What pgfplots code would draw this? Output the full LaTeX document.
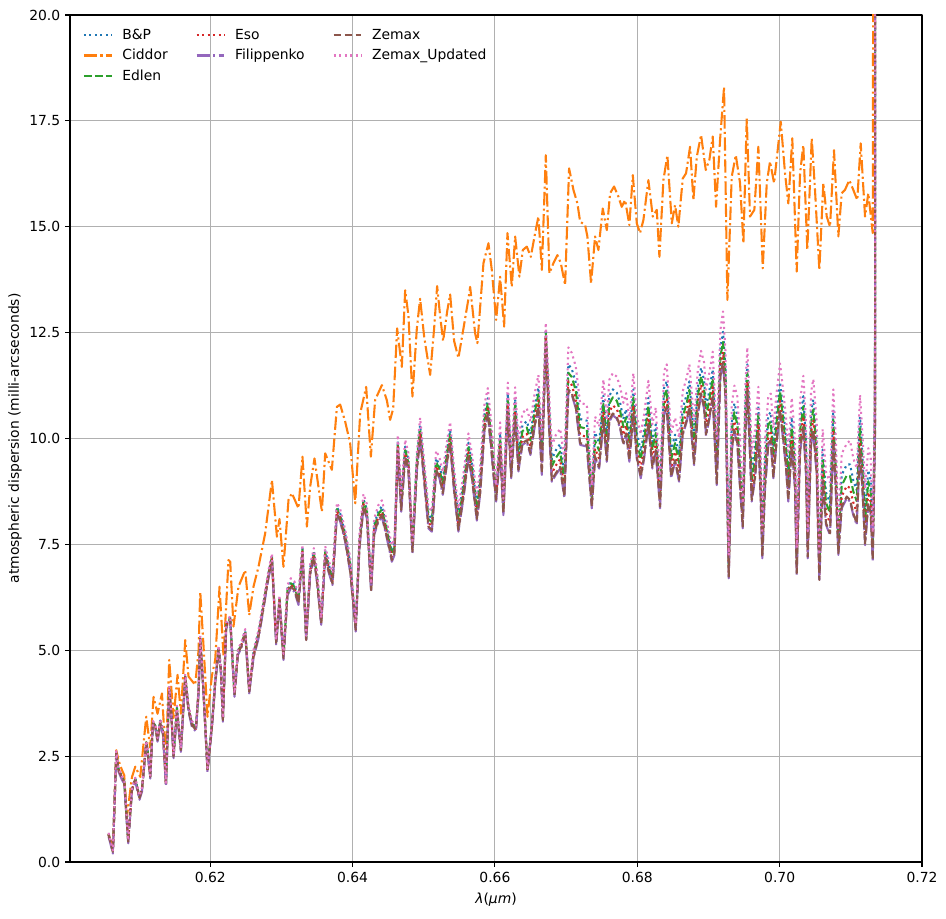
\documentclass[border=0pt]{standalone}
\usepackage{fontspec}
\setmainfont{DejaVu Sans}
\usepackage{pgfplots}
\usepackage{pgfplotstable}
\pgfplotsset{compat=1.18}
\definecolor{cB}{HTML}{1F77B4}
\definecolor{cC}{HTML}{FF7F0E}
\definecolor{cE}{HTML}{2CA02C}
\definecolor{cS}{HTML}{D62728}
\definecolor{cF}{HTML}{9467BD}
\definecolor{cZ}{HTML}{8C564B}
\definecolor{cU}{HTML}{E377C2}
\definecolor{gridc}{HTML}{B0B0B0}
\tikzset{
 mdot/.style={line width=1.5pt, dash pattern=on 1.5pt off 2.475pt},
 mdash/.style={line width=1.5pt, dash pattern=on 5.55pt off 2.4pt},
 mdashdot/.style={line width=1.5pt, dash pattern=on 9.6pt off 2.4pt on 1.5pt off 2.4pt},
}
\pgfplotstableread{
x bp ed eso fil z zu
0.60572 0.67 0.66 0.65 0.60 0.64 0.69
0.60633 0.26 0.25 0.25 0.20 0.24 0.27
0.60680 2.60 2.59 2.58 2.53 2.57 2.62
0.60712 2.20 2.19 2.18 2.13 2.17 2.22
0.60760 2.01 2.00 1.99 1.94 1.98 2.03
0.60792 1.92 1.91 1.90 1.85 1.89 1.94
0.60848 0.50 0.49 0.49 0.44 0.48 0.51
0.60900 1.73 1.72 1.71 1.66 1.70 1.75
0.60947 1.97 1.96 1.95 1.90 1.94 1.99
0.61007 1.54 1.53 1.52 1.47 1.51 1.56
0.61041 1.73 1.72 1.71 1.66 1.70 1.75
0.61101 2.84 2.83 2.82 2.77 2.81 2.86
0.61119 2.67 2.66 2.65 2.60 2.64 2.69
0.61157 2.03 2.02 2.02 1.97 2.01 2.04
0.61195 3.31 3.30 3.29 3.24 3.28 3.33
0.61228 3.22 3.21 3.20 3.15 3.19 3.24
0.61260 2.91 2.90 2.89 2.84 2.88 2.93
0.61298 3.34 3.32 3.30 3.24 3.28 3.38
0.61336 3.11 3.09 3.07 3.01 3.05 3.15
0.61378 1.85 1.84 1.83 1.78 1.82 1.87
0.61424 4.12 4.10 4.08 4.02 4.06 4.16
0.61452 3.58 3.56 3.54 3.48 3.52 3.62
0.61485 2.52 2.51 2.50 2.45 2.49 2.54
0.61532 3.65 3.63 3.61 3.55 3.59 3.69
0.61555 3.25 3.23 3.21 3.15 3.19 3.29
0.61588 2.67 2.66 2.65 2.60 2.64 2.69
0.61649 4.40 4.38 4.36 4.30 4.34 4.44
0.61695 3.65 3.63 3.61 3.55 3.59 3.69
0.61743 3.29 3.27 3.25 3.19 3.23 3.33
0.61799 3.18 3.16 3.14 3.08 3.12 3.22
0.61836 4.05 4.03 4.01 3.95 3.99 4.09
0.61860 5.30 5.28 5.26 5.20 5.24 5.34
0.61906 4.05 4.03 4.01 3.95 3.99 4.09
0.61962 2.20 2.19 2.18 2.13 2.17 2.22
0.62024 3.25 3.23 3.21 3.15 3.19 3.29
0.62070 4.29 4.27 4.25 4.19 4.23 4.33
0.62117 5.07 5.05 5.03 4.97 5.01 5.11
0.62150 4.59 4.57 4.55 4.49 4.53 4.63
0.62178 3.38 3.37 3.36 3.31 3.35 3.40
0.62225 5.62 5.60 5.58 5.52 5.56 5.66
0.62281 5.77 5.75 5.73 5.67 5.71 5.81
0.62341 3.97 3.96 3.95 3.90 3.94 3.99
0.62389 4.99 4.97 4.95 4.89 4.93 5.03
0.62435 5.14 5.12 5.10 5.04 5.08 5.18
0.62492 5.46 5.44 5.42 5.36 5.40 5.50
0.62548 4.07 4.05 4.04 3.98 4.02 4.10
0.62608 4.94 4.91 4.88 4.81 4.85 5.00
0.62678 5.41 5.38 5.35 5.28 5.32 5.47
0.62726 5.88 5.85 5.82 5.75 5.79 5.94
0.62772 6.35 6.32 6.29 6.22 6.26 6.41
0.62819 6.83 6.80 6.77 6.70 6.74 6.89
0.62867 7.22 7.19 7.16 7.09 7.13 7.28
0.62927 5.21 5.19 5.18 5.12 5.16 5.24
0.62973 6.24 6.21 6.18 6.11 6.15 6.30
0.63029 4.87 4.85 4.83 4.77 4.81 4.91
0.63086 6.46 6.42 6.38 6.30 6.34 6.54
0.63133 6.62 6.58 6.54 6.46 6.50 6.70
0.63184 6.54 6.50 6.46 6.38 6.42 6.62
0.63240 6.23 6.19 6.15 6.07 6.11 6.31
0.63296 7.41 7.37 7.33 7.25 7.29 7.49
0.63348 5.30 5.28 5.26 5.20 5.24 5.34
0.63404 6.94 6.90 6.86 6.78 6.82 7.02
0.63456 7.33 7.29 7.25 7.17 7.21 7.41
0.63499 6.81 6.76 6.71 6.62 6.66 6.91
0.63559 5.71 5.69 5.66 5.60 5.64 5.76
0.63615 7.36 7.31 7.26 7.17 7.21 7.46
0.63662 7.04 6.99 6.94 6.85 6.89 7.14
0.63718 6.73 6.68 6.63 6.54 6.58 6.83
0.63780 8.38 8.33 8.28 8.19 8.23 8.48
0.63826 8.23 8.18 8.13 8.04 8.08 8.33
0.63896 7.75 7.70 7.65 7.56 7.60 7.85
0.63966 7.07 7.01 6.95 6.85 6.89 7.19
0.64044 5.57 5.54 5.51 5.44 5.48 5.63
0.64097 7.63 7.57 7.51 7.41 7.45 7.75
0.64153 8.57 8.51 8.45 8.35 8.39 8.69
0.64201 8.33 8.27 8.21 8.11 8.15 8.45
0.64261 6.51 6.48 6.45 6.38 6.42 6.57
0.64303 7.97 7.90 7.83 7.72 7.76 8.11
0.64364 8.29 8.22 8.15 8.04 8.08 8.43
0.64412 8.40 8.33 8.26 8.15 8.19 8.54
0.64482 7.89 7.82 7.75 7.64 7.68 8.03
0.64552 7.34 7.27 7.20 7.09 7.13 7.48
0.64589 7.50 7.43 7.36 7.25 7.29 7.64
0.64636 9.94 9.87 9.80 9.69 9.73 10.08
0.64683 8.55 8.47 8.39 8.27 8.31 8.71
0.64739 9.81 9.73 9.65 9.53 9.57 9.97
0.64785 9.50 9.42 9.34 9.22 9.26 9.66
0.64841 7.45 7.41 7.37 7.29 7.33 7.53
0.64903 9.50 9.42 9.34 9.22 9.26 9.66
0.64949 10.31 10.22 10.13 10.00 10.04 10.49
0.65006 9.29 9.20 9.11 8.98 9.02 9.47
0.65066 8.19 8.10 8.01 7.88 7.92 8.37
0.65114 8.11 8.02 7.93 7.80 7.84 8.29
0.65174 9.53 9.44 9.35 9.22 9.26 9.71
0.65221 9.37 9.28 9.19 9.06 9.10 9.55
0.65268 9.01 8.91 8.81 8.67 8.71 9.21
0.65324 9.71 9.61 9.51 9.37 9.41 9.91
0.65371 10.19 10.09 9.99 9.85 9.89 10.39
0.65427 9.08 8.98 8.88 8.74 8.78 9.28
0.65487 8.14 8.04 7.94 7.80 7.84 8.34
0.65558 8.96 8.85 8.74 8.59 8.63 9.18
0.65628 9.90 9.79 9.68 9.53 9.57 10.12
0.65676 9.43 9.32 9.21 9.06 9.10 9.65
0.65746 8.43 8.32 8.21 8.06 8.10 8.65
0.65792 9.07 8.95 8.83 8.67 8.71 9.31
0.65853 10.56 10.44 10.32 10.16 10.20 10.80
0.65900 10.95 10.83 10.71 10.55 10.59 11.19
0.65947 10.17 10.05 9.93 9.77 9.81 10.41
0.65979 9.54 9.42 9.30 9.14 9.18 9.78
0.66017 8.76 8.69 8.62 8.51 8.55 8.90
0.66073 10.12 9.99 9.86 9.69 9.73 10.38
0.66119 8.44 8.37 8.30 8.19 8.23 8.58
0.66181 11.06 10.93 10.80 10.63 10.67 11.32
0.66228 9.34 9.26 9.18 9.06 9.10 9.50
0.66284 10.93 10.79 10.65 10.47 10.51 11.21
0.66330 9.68 9.54 9.40 9.22 9.26 9.96
0.66386 10.31 10.17 10.03 9.85 9.89 10.59
0.66448 10.41 10.26 10.11 9.92 9.96 10.71
0.66499 10.10 9.95 9.80 9.61 9.65 10.40
0.66555 10.73 10.58 10.43 10.24 10.28 11.03
0.66611 11.20 11.05 10.90 10.71 10.75 11.50
0.66659 9.66 9.50 9.34 9.14 9.18 9.98
0.66715 12.57 12.49 12.41 12.29 12.33 12.73
0.66761 10.76 10.60 10.44 10.24 10.28 11.08
0.66799 9.50 9.34 9.18 8.98 9.02 9.82
0.66855 9.72 9.54 9.36 9.14 9.18 10.08
0.66916 9.87 9.69 9.51 9.29 9.33 10.23
0.66976 9.17 8.99 8.81 8.59 8.63 9.53
0.67032 11.75 11.55 11.35 11.11 11.15 12.15
0.67080 11.64 11.45 11.26 11.03 11.07 12.02
0.67136 11.32 11.13 10.94 10.71 10.75 11.70
0.67197 10.46 10.27 10.08 9.85 9.89 10.84
0.67291 10.42 10.23 10.04 9.81 9.85 10.80
0.67361 8.69 8.59 8.49 8.35 8.39 8.89
0.67407 10.14 9.95 9.76 9.53 9.57 10.52
0.67464 9.90 9.71 9.52 9.29 9.33 10.28
0.67524 11.01 10.82 10.63 10.40 10.44 11.39
0.67572 10.06 9.87 9.68 9.45 9.49 10.44
0.67608 11.01 10.82 10.63 10.40 10.44 11.39
0.67656 11.16 10.97 10.78 10.55 10.59 11.54
0.67712 11.08 10.89 10.70 10.47 10.51 11.46
0.67758 10.85 10.66 10.47 10.24 10.28 11.23
0.67805 10.46 10.27 10.08 9.85 9.89 10.84
0.67843 10.69 10.50 10.31 10.08 10.12 11.07
0.67889 10.06 9.87 9.68 9.45 9.49 10.44
0.67945 11.16 10.97 10.78 10.55 10.59 11.54
0.67993 10.14 9.95 9.76 9.53 9.57 10.52
0.68049 9.70 9.50 9.30 9.06 9.10 10.10
0.68096 10.17 9.97 9.77 9.53 9.57 10.57
0.68156 10.96 10.76 10.56 10.32 10.36 11.36
0.68212 9.93 9.73 9.53 9.29 9.33 10.33
0.68260 10.33 10.13 9.93 9.69 9.73 10.73
0.68320 8.75 8.63 8.51 8.35 8.39 8.99
0.68376 11.19 10.99 10.79 10.55 10.59 11.59
0.68414 11.35 11.15 10.95 10.71 10.75 11.75
0.68475 9.70 9.50 9.30 9.06 9.10 10.10
0.68531 10.09 9.89 9.69 9.45 9.49 10.49
0.68587 9.62 9.42 9.22 8.98 9.02 10.02
0.68639 10.72 10.52 10.32 10.08 10.12 11.12
0.68695 11.04 10.84 10.64 10.40 10.44 11.44
0.68732 11.35 11.15 10.95 10.71 10.75 11.75
0.68798 10.01 9.81 9.61 9.37 9.41 10.41
0.68850 11.19 10.99 10.79 10.55 10.59 11.59
0.68896 11.67 11.47 11.27 11.03 11.07 12.07
0.68938 11.38 11.17 10.96 10.71 10.75 11.80
0.68966 10.73 10.52 10.31 10.06 10.10 11.15
0.69013 11.13 10.92 10.71 10.46 10.50 11.55
0.69060 11.63 11.42 11.21 10.96 11.00 12.05
0.69117 9.57 9.36 9.15 8.90 8.94 9.99
0.69167 12.13 11.92 11.71 11.46 11.50 12.55
0.69205 12.52 12.28 12.04 11.76 11.80 13.00
0.69240 11.63 11.42 11.21 10.96 11.00 12.05
0.69285 7.04 6.94 6.84 6.70 6.74 7.24
0.69327 10.36 10.15 9.94 9.69 9.73 10.78
0.69364 10.83 10.62 10.41 10.16 10.20 11.25
0.69406 10.55 10.33 10.11 9.85 9.89 10.99
0.69444 9.52 9.30 9.08 8.82 8.86 9.96
0.69482 8.25 8.14 8.03 7.88 7.92 8.47
0.69518 10.78 10.56 10.34 10.08 10.12 11.22
0.69546 11.75 11.55 11.35 11.11 11.15 12.15
0.69584 10.31 10.09 9.87 9.61 9.65 10.75
0.69608 9.21 8.99 8.77 8.51 8.55 9.65
0.69655 9.76 9.54 9.32 9.06 9.10 10.20
0.69701 10.78 10.56 10.34 10.08 10.12 11.22
0.69735 9.21 8.99 8.77 8.51 8.55 9.65
0.69757 7.54 7.43 7.32 7.17 7.21 7.76
0.69795 9.52 9.30 9.08 8.82 8.86 9.96
0.69841 10.55 10.33 10.11 9.85 9.89 10.99
0.69875 10.62 10.40 10.18 9.92 9.96 11.06
0.69912 9.79 9.56 9.33 9.06 9.10 10.25
0.69959 10.65 10.42 10.19 9.92 9.96 11.11
0.70006 11.33 11.11 10.89 10.63 10.67 11.77
0.70052 10.65 10.42 10.19 9.92 9.96 11.11
0.70090 10.02 9.79 9.56 9.29 9.33 10.48
0.70122 9.24 9.01 8.78 8.51 8.55 9.70
0.70170 10.50 10.27 10.04 9.77 9.81 10.96
0.70216 9.55 9.32 9.09 8.82 8.86 10.01
0.70240 7.18 7.06 6.94 6.78 6.82 7.42
0.70287 10.42 10.19 9.96 9.69 9.73 10.88
0.70333 11.00 10.76 10.52 10.24 10.28 11.48
0.70371 9.90 9.66 9.42 9.14 9.18 10.38
0.70395 7.57 7.45 7.33 7.17 7.21 7.81
0.70441 10.61 10.37 10.13 9.85 9.89 11.09
0.70473 10.92 10.68 10.44 10.16 10.20 11.40
0.70521 9.90 9.66 9.42 9.14 9.18 10.38
0.70558 7.02 6.90 6.78 6.62 6.66 7.26
0.70605 9.74 9.50 9.26 8.98 9.02 10.22
0.70652 8.72 8.48 8.24 7.96 8.00 9.20
0.70708 8.48 8.24 8.00 7.72 7.76 8.96
0.70754 10.68 10.44 10.20 9.92 9.96 11.16
0.70792 9.43 9.19 8.95 8.67 8.71 9.91
0.70825 7.65 7.53 7.41 7.25 7.29 7.89
0.70872 9.14 8.89 8.64 8.35 8.39 9.64
0.70943 9.38 9.13 8.88 8.59 8.63 9.88
0.70989 9.39 9.11 8.83 8.51 8.55 9.95
0.71035 9.01 8.75 8.49 8.19 8.23 9.53
0.71083 8.78 8.52 8.26 7.96 8.00 9.30
0.71129 10.51 10.25 9.99 9.69 9.73 11.03
0.71167 9.49 9.23 8.97 8.67 8.71 10.01
0.71200 8.30 8.04 7.78 7.48 7.52 8.82
0.71246 9.25 8.99 8.73 8.43 8.47 9.77
0.71280 9.01 8.75 8.49 8.19 8.23 9.53
0.71308 7.52 7.39 7.26 7.09 7.13 7.78
0.71340 10.90 10.64 10.38 10.08 10.12 11.42
0.71354 60 60 60 60 60 60
}\cluster
\pgfplotstableread{
x y
0.60572 0.66
0.60633 0.30
0.60680 2.64
0.60712 2.40
0.60760 2.17
0.60792 2.05
0.60830 1.07
0.60900 2.00
0.60947 2.25
0.61017 2.01
0.61101 3.43
0.61157 2.70
0.61204 3.90
0.61260 3.50
0.61322 3.98
0.61378 2.41
0.61424 4.77
0.61485 3.40
0.61541 4.42
0.61588 3.50
0.61649 5.24
0.61695 4.38
0.61789 4.18
0.61836 5.00
0.61860 6.38
0.61906 5.10
0.61962 3.43
0.62024 4.40
0.62070 4.77
0.62131 6.50
0.62187 4.85
0.62257 7.13
0.62281 7.09
0.62327 5.56
0.62397 6.50
0.62492 6.89
0.62548 5.83
0.62608 6.50
0.62678 6.97
0.62772 7.76
0.62867 9.02
0.62937 7.68
0.62973 8.10
0.63029 6.97
0.63100 8.55
0.63147 8.71
0.63240 8.35
0.63296 9.57
0.63358 7.92
0.63404 8.86
0.63465 9.53
0.63569 8.27
0.63615 9.65
0.63709 9.26
0.63780 10.75
0.63826 10.80
0.63896 10.40
0.63966 9.89
0.64037 8.47
0.64107 10.59
0.64191 11.22
0.64257 9.57
0.64317 10.91
0.64412 11.26
0.64482 10.90
0.64528 10.44
0.64570 10.70
0.64626 12.60
0.64692 11.69
0.64739 13.50
0.64785 12.90
0.64841 10.99
0.64903 12.60
0.64949 13.30
0.65006 12.40
0.65090 11.50
0.65146 12.60
0.65188 13.60
0.65230 12.90
0.65272 12.30
0.65329 13.00
0.65371 13.40
0.65427 12.30
0.65487 11.90
0.65558 12.60
0.65628 13.30
0.65652 13.58
0.65722 12.48
0.65754 12.25
0.65839 14.14
0.65909 14.61
0.65956 13.98
0.66017 12.80
0.66073 13.82
0.66129 12.64
0.66176 14.85
0.66237 13.58
0.66284 14.77
0.66344 13.82
0.66392 14.45
0.66448 14.53
0.66504 14.29
0.66565 14.85
0.66611 15.24
0.66659 13.98
0.66715 16.69
0.66765 13.90
0.66822 14.14
0.66878 14.33
0.66926 14.14
0.66986 13.62
0.67042 16.38
0.67103 15.87
0.67159 15.55
0.67197 15.12
0.67267 15.04
0.67299 14.77
0.67351 13.66
0.67407 14.77
0.67454 14.45
0.67515 15.43
0.67572 14.92
0.67618 15.79
0.67674 15.95
0.67735 15.71
0.67782 15.47
0.67829 15.63
0.67889 15.04
0.67937 16.22
0.67993 15.08
0.68039 14.85
0.68086 15.16
0.68156 16.10
0.68218 15.24
0.68274 15.40
0.68311 14.29
0.68367 16.10
0.68423 16.69
0.68485 15.08
0.68531 15.51
0.68577 15.00
0.68639 16.14
0.68685 16.26
0.68742 16.89
0.68788 15.63
0.68836 16.65
0.68896 17.17
0.68962 16.34
0.69013 16.58
0.69060 17.13
0.69107 15.47
0.69163 17.05
0.69219 18.30
0.69266 13.27
0.69327 16.18
0.69384 16.69
0.69444 16.03
0.69491 14.61
0.69538 17.56
0.69584 15.24
0.69645 15.40
0.69701 16.89
0.69763 14.02
0.69819 16.03
0.69865 16.54
0.69922 16.03
0.70016 17.48
0.70076 16.26
0.70122 15.55
0.70178 17.09
0.70240 13.94
0.70287 16.26
0.70333 16.93
0.70389 14.45
0.70451 17.09
0.70497 15.87
0.70558 13.98
0.70614 16.03
0.70662 15.24
0.70708 15.00
0.70764 16.81
0.70825 14.77
0.70872 15.79
0.70918 15.87
0.70979 16.10
0.71035 15.87
0.71091 15.63
0.71139 16.97
0.71200 15.24
0.71246 15.79
0.71308 14.85
0.71354 60
}\ciddor
\begin{document}
\begin{tikzpicture}
\begin{axis}[
 scale only axis, width=613.4pt, height=609.8pt,
 xmin=0.6003, xmax=0.72, ymin=0, ymax=20,
 xtick={0.62,0.64,0.66,0.68,0.70,0.72},
 ytick={0,2.5,5,7.5,10,12.5,15,17.5,20},
 scaled x ticks=false, scaled y ticks=false,
 xticklabel style={/pgf/number format/.cd, fixed, fixed zerofill, precision=2},
 yticklabel style={/pgf/number format/.cd, fixed, fixed zerofill, precision=1},
 /pgf/number format/assume math mode=true,
 tick pos=left, tick align=outside, major tick length=3.5pt,
 every tick/.style={black, line width=0.8pt},
 axis line style={line width=0.8pt},
 grid=major, grid style={gridc, line width=0.8pt},
 tick label style={font=\fontsize{10}{12}\selectfont},
 label style={font=\fontsize{10}{12}\selectfont},
 xlabel={\textit{λ}(\textit{μm})},
 ylabel={atmospheric dispersion (milli-arcseconds)},
 every axis x label/.style={at={(axis description cs:0.5,-0.0449)},anchor=center},
 every axis y label/.style={at={(axis description cs:-0.0646,0.5)},rotate=90,anchor=center},
 legend columns=3,
 legend cell align=left,
 legend style={at={(0,1)}, anchor=north west, draw=none, fill=none,
   font=\fontsize{10}{12}\selectfont, xshift=6pt, yshift=-6pt, row sep=1.5pt,
   /tikz/every odd column/.append style={column sep=5pt},
   /tikz/every even column/.append style={column sep=18pt}},
 legend image code/.code={\draw[#1] (0pt,0pt) -- (20pt,0pt);},
 line join=round,
]
\addplot[cB, mdot, forget plot] table[x=x,y=bp]{\cluster};
\addplot[cC, mdashdot, forget plot] table[x=x,y=y]{\ciddor};
\addplot[cE, mdash, forget plot] table[x=x,y=ed]{\cluster};
\addplot[cS, mdot, forget plot] table[x=x,y=eso]{\cluster};
\addplot[cF, mdashdot, forget plot] table[x=x,y=fil]{\cluster};
\addplot[cZ, mdash, forget plot] table[x=x,y=z]{\cluster};
\addplot[cU, mdot, forget plot] table[x=x,y=zu]{\cluster};
\addlegendimage{cB, mdot}\addlegendentry{B\&P}
\addlegendimage{cS, mdot}\addlegendentry{Eso}
\addlegendimage{cZ, mdash}\addlegendentry{Zemax}
\addlegendimage{cC, mdashdot}\addlegendentry{Ciddor}
\addlegendimage{cF, mdashdot}\addlegendentry{Filippenko}
\addlegendimage{cU, mdot}\addlegendentry{Zemax\_Updated}
\addlegendimage{cE, mdash}\addlegendentry{Edlen}
\end{axis}
\path ([xshift=-50.4pt,yshift=-41pt]current axis.south west) rectangle ([xshift=17.3pt,yshift=10.8pt]current axis.north east);
\end{tikzpicture}
\end{document}
